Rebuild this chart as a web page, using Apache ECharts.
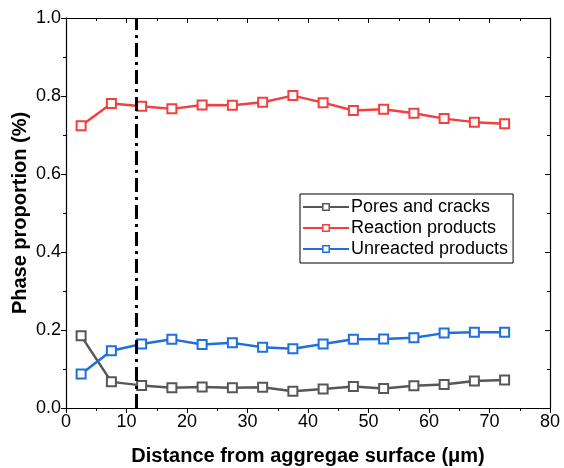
<!DOCTYPE html>
<html>
<head>
<meta charset="utf-8">
<script src="https://cdn.jsdelivr.net/npm/echarts@6/dist/echarts.min.js"></script>
<style>
html, body { margin: 0; padding: 0; background: #fff; }
#chart { width: 564px; height: 468px; }
</style>
</head>
<body>
<div id="chart"></div>
<script>
// Distance from aggregate surface (µm)
const distance = [2.5, 7.5, 12.5, 17.5, 22.5, 27.5, 32.5, 37.5, 42.5, 47.5, 52.5, 57.5, 62.5, 67.5, 72.5];
const poresCracks = [0.185, 0.067, 0.058, 0.052, 0.054, 0.052, 0.053, 0.043, 0.049, 0.055, 0.050, 0.057, 0.060, 0.069, 0.072];
const reactionProducts = [0.724, 0.781, 0.774, 0.767, 0.777, 0.776, 0.784, 0.801, 0.783, 0.763, 0.766, 0.756, 0.742, 0.733, 0.729];
const unreactedProducts = [0.087, 0.147, 0.164, 0.176, 0.163, 0.167, 0.156, 0.152, 0.164, 0.176, 0.177, 0.180, 0.192, 0.194, 0.194];
const boundaryX = 11.6;

const seriesNames = ['Pores and cracks', 'Reaction products', 'Unreacted products'];
const seriesColors = ['#575757', '#f23f3f', '#1f6fdc'];
const seriesValues = [poresCracks, reactionProducts, unreactedProducts];

const font = 'Arial, "Liberation Sans", sans-serif';

const chart = echarts.init(document.getElementById('chart'));

const series = seriesValues.map((vals, i) => ({
  name: seriesNames[i],
  type: 'line',
  data: distance.map((x, k) => [x, vals[k]]),
  symbol: 'rect',
  symbolSize: 9,
  lineStyle: { color: seriesColors[i], width: 2.5 },
  itemStyle: { color: '#fff', borderColor: seriesColors[i], borderWidth: 2 },
  emphasis: { disabled: true },
  z: 3
}));

// vertical dash-dot boundary
series[0].markLine = {
  silent: true,
  symbol: 'none',
  label: { show: false },
  lineStyle: { color: '#000', width: 3, type: [14, 5, 3, 5] },
  data: [{ xAxis: boundaryX }]
};

const axisLine = { show: true, onZero: false, lineStyle: { color: '#000', width: 1.2 } };
const tickStyle = { color: '#000', width: 1 };

chart.setOption({
  animation: false,
  backgroundColor: '#fff',
  grid: { left: 66, right: 14, top: 18, bottom: 60, outerBoundsMode: 'none' },
  legend: {
    data: seriesNames.map((n, i) => ({ name: n, itemStyle: { color: '#fff', borderColor: seriesColors[i], borderWidth: 1.5 } })),
    orient: 'vertical',
    left: 300,
    top: 194,
    itemWidth: 46,
    itemHeight: 8,
    itemGap: 3,
    padding: [4, 5, 5, 2],
    borderColor: '#000',
    borderWidth: 1,
    backgroundColor: '#fff',
    textStyle: { fontFamily: font, fontSize: 18, color: '#000', padding: [0, 0, 0, -3] }
  },
  xAxis: [{
    type: 'value',
    min: 0, max: 80, interval: 10,
    position: 'bottom',
    name: 'Distance from aggregae surface (μm)',
    nameLocation: 'middle',
    nameGap: 38,
    nameMoveOverlap: false,
    nameTextStyle: { fontFamily: font, fontSize: 20, fontWeight: 'bold', color: '#000' },
    axisLine: axisLine,
    axisTick: { show: true, inside: false, length: 5, lineStyle: tickStyle },
    minorTick: { show: true, splitNumber: 2, length: 3, lineStyle: tickStyle },
    axisLabel: { fontFamily: font, fontSize: 18, color: '#000', margin: 5 },
    splitLine: { show: false }
  }, {
    type: 'value',
    min: 0, max: 80, interval: 10,
    position: 'top',
    axisLine: axisLine,
    axisTick: { show: true, inside: true, length: 5, lineStyle: tickStyle },
    minorTick: { show: true, splitNumber: 2, length: 3, lineStyle: tickStyle },
    axisLabel: { show: false },
    splitLine: { show: false }
  }],
  yAxis: [{
    type: 'value',
    min: 0, max: 1.0, interval: 0.2,
    position: 'left',
    name: 'Phase proportion (%)',
    nameLocation: 'middle',
    nameGap: 36,
    nameMoveOverlap: false,
    nameTextStyle: { fontFamily: font, fontSize: 20, fontWeight: 'bold', color: '#000' },
    axisLine: axisLine,
    axisTick: { show: true, inside: false, length: 5, lineStyle: tickStyle },
    minorTick: { show: true, splitNumber: 2, length: 3, lineStyle: tickStyle },
    axisLabel: { fontFamily: font, fontSize: 18, color: '#000', margin: 5, formatter: v => v.toFixed(1) },
    splitLine: { show: false }
  }, {
    type: 'value',
    min: 0, max: 1.0, interval: 0.2,
    position: 'right',
    axisLine: axisLine,
    axisTick: { show: true, inside: true, length: 5, lineStyle: tickStyle },
    minorTick: { show: true, splitNumber: 2, length: 3, lineStyle: tickStyle },
    axisLabel: { show: false },
    splitLine: { show: false }
  }],
  series: series
});
</script>
</body>
</html>
